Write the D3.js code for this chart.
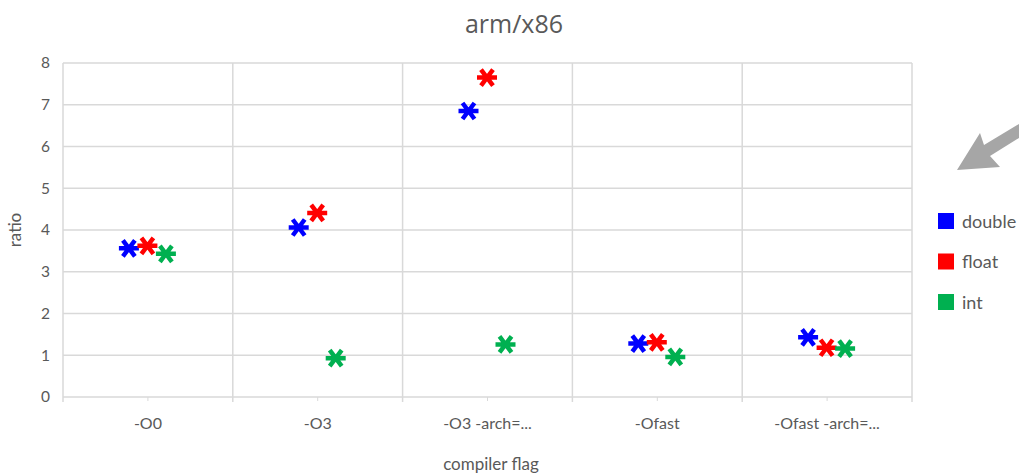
<!DOCTYPE html>
<html>
<head>
<meta charset="utf-8">
<script src="https://cdn.jsdelivr.net/npm/d3@7"></script>
<style>
  html, body { margin: 0; padding: 0; background: #fff; }
  svg { display: block; font-family: Lato, "Open Sans", sans-serif; }
</style>
</head>
<body>
<svg id="chart" width="1019" height="474"></svg>
<script>
// Compiler flags on the x axis
const categories = ["-O0", "-O3", "-O3 -arch=...", "-Ofast", "-Ofast -arch=..."];
// arm/x86 ratio per data type
const doubleValues = [3.56, 4.06, 6.85, 1.28, 1.43];
const floatValues  = [3.62, 4.41, 7.65, 1.31, 1.18];
const intValues    = [3.43, 0.93, 1.26, 0.96, 1.16];
const seriesNames  = ["double", "float", "int"];
const seriesColors = ["#0000ff", "#ff0000", "#00b050"];
const yTicks = [0, 1, 2, 3, 4, 5, 6, 7, 8];

const series = [doubleValues, floatValues, intValues].map((vals, i) => ({
  name: seriesNames[i], color: seriesColors[i], values: vals
}));

const svg = d3.select("#chart");
const plot = { left: 63, right: 912, top: 63, bottom: 397 };

const x = d3.scaleBand().domain(categories).range([plot.left, plot.right]).padding(0);
const y = d3.scaleLinear().domain([0, 8]).range([plot.bottom, plot.top]);
const offset = d3.scalePoint().domain(seriesNames).range([-19, 18]);

const gridColor = "#d9d9d9";
const textColor = "#595959";

// Horizontal gridlines
svg.append("g").selectAll("line").data(yTicks).join("line")
  .attr("x1", plot.left).attr("x2", plot.right)
  .attr("y1", d => y(d)).attr("y2", d => y(d))
  .attr("stroke", gridColor).attr("stroke-width", 1.5);

// Vertical gridlines at category boundaries
const bounds = categories.map(c => x(c)).concat([x(categories[categories.length - 1]) + x.bandwidth()]);
svg.append("g").selectAll("line").data(bounds).join("line")
  .attr("x1", d => d).attr("x2", d => d)
  .attr("y1", plot.top).attr("y2", plot.bottom + 5)
  .attr("stroke", gridColor).attr("stroke-width", 1.5);

// Y axis labels
const yAxis = svg.append("g")
  .attr("transform", `translate(${plot.left},0)`)
  .call(d3.axisLeft(y).tickValues(yTicks).tickSize(0).tickPadding(13));
yAxis.select(".domain").remove();
yAxis.selectAll("text").attr("fill", textColor).style("font-size", "15.5px")
  .style("font-family", "Lato, sans-serif");

// X axis labels with small center ticks
const xAxis = svg.append("g")
  .attr("transform", `translate(0,${plot.bottom})`)
  .call(d3.axisBottom(x).tickSize(4).tickPadding(17));
xAxis.select(".domain").remove();
xAxis.selectAll(".tick line").attr("stroke", gridColor).attr("stroke-width", 1);
xAxis.selectAll("text").attr("fill", textColor).style("font-size", "16px")
  .style("font-family", "Lato, sans-serif");

// Star markers: horizontal bar crossed by two diagonals
const markerPath = "M-10,0L10,0M-6,-8L6,8M-6,8L6,-8";
series.forEach(s => {
  svg.append("g").selectAll("path").data(s.values).join("path")
    .attr("transform", (d, i) => `translate(${x(categories[i]) + x.bandwidth() / 2 + offset(s.name)},${y(d)})`)
    .attr("d", markerPath)
    .attr("fill", "none")
    .attr("stroke", s.color)
    .attr("stroke-width", 4.5);
});

// Title
svg.append("text").attr("x", 514).attr("y", 33).attr("text-anchor", "middle")
  .attr("fill", textColor).style("font-size", "25px")
  .style("font-family", "'Open Sans', sans-serif").text("arm/x86");

// Axis titles
svg.append("text").attr("x", 491).attr("y", 470).attr("text-anchor", "middle")
  .attr("fill", textColor).style("font-size", "17px").text("compiler flag");
svg.append("text").attr("transform", "translate(21,230) rotate(-90)")
  .attr("text-anchor", "middle").attr("fill", textColor)
  .style("font-size", "17px").text("ratio");

// Legend
const legend = svg.append("g").selectAll("g").data(series).join("g")
  .attr("transform", (d, i) => `translate(938,${213 + i * 40.5})`);
legend.append("rect").attr("width", 16).attr("height", 16).attr("fill", d => d.color);
legend.append("text").attr("x", 24).attr("y", 14.5)
  .attr("fill", textColor).style("font-size", "18px").text(d => d.name);

// Grey callout arrow
svg.append("path")
  .attr("d", "M957,170L980,133L984,145L1019,124L1019,138L990,156L1000,167Z")
  .attr("fill", "#a6a6a6");
</script>
</body>
</html>
